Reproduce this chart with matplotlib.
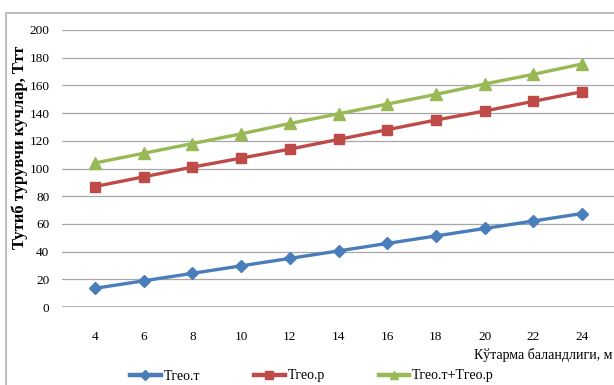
import matplotlib.pyplot as plt
from matplotlib.patches import Rectangle

heights = [4, 6, 8, 10, 12, 14, 16, 18, 20, 22, 24]
t_geo_t = [13.5, 18.9, 24.3, 29.7, 35.1, 40.5, 45.9, 51.3, 56.7, 62.1, 67.5]
t_geo_p = [87, 94, 101, 107.5, 114, 121, 128, 135, 141.5, 148.5, 155.5]
t_geo_sum = [104, 111, 118, 125, 132.5, 139.5, 146.5, 153.5, 161, 168, 175.5]
y_ticks = [0, 20, 40, 60, 80, 100, 120, 140, 160, 180, 200]

plt.rcParams['font.family'] = ['Liberation Serif', 'DejaVu Serif']

fig = plt.figure(figsize=(6.14, 3.85), dpi=100)
ax = fig.add_axes([62 / 614, 1 - 307 / 385, 1 - 62 / 614, (307 - 30) / 385])

# grey frame around the chart area
fig.patches.append(Rectangle((6 / 614, -0.1), 1.2, 1 - 13 / 385 + 0.1,
                             transform=fig.transFigure, fill=False,
                             edgecolor='#bfbfbf', linewidth=1.5))

ax.plot(heights, t_geo_t, color='#4a7ebb', lw=2.4, marker='D', ms=6.5, label='Тгео.т')
ax.plot(heights, t_geo_p, color='#be4b48', lw=2.4, marker='s', ms=7.5, label='Тгео.р')
ax.plot(heights, t_geo_sum, color='#98b954', lw=2.4, marker='^', ms=8, label='Тгео.т+Тгео.р')

ax.set_xlim(2.645, 25.31)
ax.set_ylim(0, 200)
ax.set_xticks(heights)
ax.set_yticks(y_ticks)
ax.yaxis.grid(True, color='#a6a6a6', lw=0.9)
ax.set_axisbelow(True)
for side in ['top', 'right', 'left', 'bottom']:
    ax.spines[side].set_visible(False)
ax.axhline(0, color='#a6a6a6', lw=1.2, zorder=0)
ax.tick_params(axis='both', length=0, labelsize=9.5)
ax.tick_params(axis='x', pad=17)
ax.tick_params(axis='y', pad=9)

fig.text(20 / 614, 1 - 147 / 385, 'Тутиб турувчи кучлар, Ттт', rotation=90,
         ha='center', va='center', fontsize=12, fontweight='bold')
fig.text(612 / 614, 1 - 355 / 385, 'Кўтарма баландлиги, м', ha='right',
         va='center', fontsize=10)

leg = fig.legend(loc='center left', bbox_to_anchor=(130 / 614, 1 - 376 / 385), ncol=3,
                 frameon=False, fontsize=10, handlelength=2.2, handletextpad=0.2,
                 columnspacing=3.9, borderaxespad=0, borderpad=0)
for line in leg.get_lines():
    line.set_linewidth(3.2)
    line.set_markersize(5.5)

plt.savefig('out.png', dpi=100)
